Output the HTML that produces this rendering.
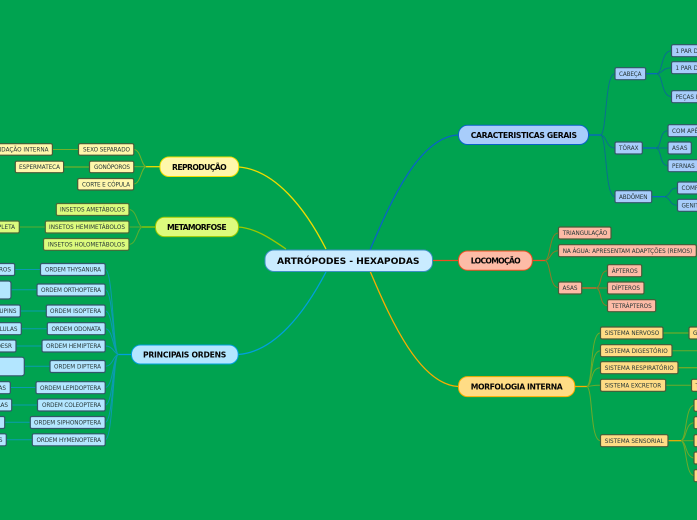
<!DOCTYPE html>
<html><head><meta charset="utf-8">
<style>
html,body{margin:0;padding:0;background:#00a350;overflow:hidden}
svg{display:block}
text{font-family:"DejaVu Sans","Liberation Sans",sans-serif}
.s text{font-size:5.7px;fill:#263636}
.m{font-size:7.7px;font-weight:bold;fill:#050505}
.b rect{fill:#a8cdfb;stroke:#34566a;stroke-width:1.2}
.r rect{fill:#fdbba6;stroke:#4a5a38;stroke-width:1.2}
.o rect{fill:#ffdc85;stroke:#4a5a38;stroke-width:1.2}
.y rect{fill:#fff7ab;stroke:#4a5a38;stroke-width:1.2}
.l rect{fill:#dcfb7d;stroke:#4a6a38;stroke-width:1.2}
.c rect{fill:#b3e6ff;stroke:#34566a;stroke-width:1.2}
path{fill:none}
</style></head><body>
<svg width="697" height="520" viewBox="0 0 697 520" xmlns="http://www.w3.org/2000/svg">
<rect width="697" height="520" fill="#00a350"/>

<!-- main links -->
<g stroke-width="1.3">
<path d="M370 250C392 198 420 137 458 135" stroke="#0a63c9"/>
<path d="M370 271C392 323 420 384 458 386.5" stroke="#f9ad00"/>
<path d="M432 260.5H458" stroke="#ef4e23"/>
<path d="M326 249C305 208 275 170 239 167" stroke="#f0dc00"/>
<path d="M286 249C270 238 255 228 238 227" stroke="#9cc800"/>
<path d="M326 272C305 312 275 352 238 354.5" stroke="#00a0de"/>
</g>

<!-- reprodução links -->
<path d="M146 166.7H160" stroke="#f0dc00" stroke-width="1.3"/>
<g stroke="#72b02a" stroke-width="1">
<path d="M146 166.7C141 165 141 150 134 149.5"/><path d="M146 166.7H134"/><path d="M146 166.7C141 168 141 183 134 184"/>
<path d="M78 149.5H52.6"/><path d="M89 167H63.7" stroke-width="1.2"/>
</g>
<!-- metamorfose links -->
<path d="M142 227H155.3" stroke="#9cc800" stroke-width="1.3"/>
<g stroke="#5cae30" stroke-width="1">
<path d="M142 227C137 225 137 210 129 209.5"/><path d="M142 227H129"/><path d="M142 227C137 229 137 244 129 244.5"/>
<path d="M45 227H19.3"/>
</g>
<!-- ordens links -->
<path d="M118 354.5H131.3" stroke="#00a0de" stroke-width="1.3"/>
<g stroke="#0a9cb0" stroke-width="1">
<path d="M118 354.5C113 350 113 270 105.3 269.5"/>
<path d="M118 354.5C113 350 113 290 105.3 289.7"/>
<path d="M118 354.5C113 350 113 311 105.3 311"/>
<path d="M118 354.5C113 350 113 329 105.3 328.7"/>
<path d="M118 354.5C113 352 113 346 105.3 346"/>
<path d="M118 354.5C113 356 113 366 105.3 366.3"/>
<path d="M118 354.5C113 358 113 387 105.3 387.5"/>
<path d="M118 354.5C113 358 113 405 105.3 405"/>
<path d="M118 354.5C113 358 113 422 105.3 422.3"/>
<path d="M118 354.5C113 358 113 439 105.3 439.7"/>
<path d="M40.3 269.5H14.7"/><path d="M36.7 289.7H11"/><path d="M46 311H20.3"/><path d="M47 328.7H21.3"/><path d="M41.7 346H16"/><path d="M49.7 366.3H24.3"/><path d="M35.7 387.5H10.3"/><path d="M37.3 405H11.7"/><path d="M30 422.3H4.7"/><path d="M32 439.7H6.3"/>
</g>
<!-- caracteristicas links -->
<path d="M589 135H601" stroke="#0a63c9" stroke-width="1.3"/>
<g stroke="#0a7090" stroke-width="1">
<path d="M601 135C607 130 605 74 614.7 73.7"/><path d="M601 135C607 136 606 148 614.7 148"/><path d="M601 135C607 140 605 196 614.7 196.7"/>
<path d="M657 73.7C663 72 661 51 671.3 50.7"/><path d="M657 73.7C663 73 662 68 671.3 67.7"/><path d="M657 73.7C663 75 661 96 671.3 96.7"/>
<path d="M656 148C662 147 659 131 667.7 130.7"/><path d="M656 148H667.7"/><path d="M656 148C662 149 659 165 667.7 165.7"/>
<path d="M665 196.7C671 195 669 188 677.3 188"/><path d="M665 196.7C671 198 669 205 677.3 205.3"/>
</g>
<g stroke="#0a63c9" stroke-width="1.2"><path d="M645.7 73.7H657"/><path d="M642.3 148H656"/><path d="M651.7 196.7H665"/></g>
<!-- locomoção links -->
<path d="M532.3 260.5H545" stroke="#ef4e23" stroke-width="1.3"/>
<g stroke="#8c7a2a" stroke-width="1">
<path d="M545 260.5C551 259 549 233 558.3 233"/><path d="M545 260.5C551 260 550 251 558.3 250.7"/><path d="M545 260.5C551 262 549 287 558.3 287.7"/>
<path d="M596 288C602 287 599 271 607.3 270.7"/><path d="M596 288H607.3"/><path d="M596 288C602 289 599 305 607.3 305.7"/>
</g>
<path d="M581.7 288H596" stroke="#c8682a" stroke-width="1.5"/>
<!-- morfologia links -->
<path d="M575 386.5H587" stroke="#f9ad00" stroke-width="1.3"/>
<g stroke="#6eaa2a" stroke-width="1">
<path d="M587 386.5C593 383 590 333 600.3 333"/><path d="M587 386.5C593 383 590 351 600.3 350.7"/><path d="M587 386.5C593 384 590 368 600.3 367.7"/><path d="M587 386.5C593 386 593 385 600.3 385.3"/><path d="M587 386.5C593 390 590 440 600.3 440.7"/>
<path d="M663 333H689" stroke-width="1.3"/><path d="M672 350.7H697"/><path d="M678 367.7H697" stroke-width="1.3"/><path d="M665.7 385.3H691"/>
<path d="M681 440.7C687 438 685 406 694 405.3"/><path d="M681 440.7C687 439 685 423 694 422.7"/><path d="M681 440.7H694"/><path d="M681 440.7C687 442 685 457 694 458"/><path d="M681 440.7C687 443 685 475 694 475.7"/>
</g>
<path d="M668 440.7H681" stroke="#f9ad00" stroke-width="1.2"/>

<!-- center -->
<rect x="265" y="250" width="167.5" height="21.5" rx="9" fill="#c9ebff" stroke="#3d8fc4" stroke-width="1"/>
<text x="277" y="264" class="m" style="font-size:9.2px" textLength="142.5">ARTRÓPODES - HEXAPODAS</text>

<!-- main nodes -->
<rect x="160" y="157" width="78.7" height="19.5" rx="9" fill="#fff7ab" stroke="#f0dc00"/>
<text x="172" y="170" class="m" textLength="54.7">REPRODUÇÃO</text>
<rect x="155.5" y="217.3" width="83" height="19.3" rx="9" fill="#dcfb7d" stroke="#9cc800"/>
<text x="167" y="230" class="m" textLength="59.7">METAMORFOSE</text>
<rect x="131.5" y="345" width="106.7" height="19" rx="9" fill="#b3e6ff" stroke="#00a0de"/>
<text x="143" y="357.5" class="m" textLength="83.3">PRINCIPAIS ORDENS</text>
<rect x="458.5" y="125.3" width="130" height="19.2" rx="9" fill="#a8cdfb" stroke="#0a63c9"/>
<text x="470.7" y="138" class="m" textLength="106.3">CARACTERISTICAS GERAIS</text>
<rect x="458.5" y="251" width="73.8" height="19.2" rx="9" fill="#fdbba6" stroke="#ef4e23"/>
<text x="470.7" y="263.5" class="m" textLength="50">LOCOMOÇÃO</text>
<rect x="458.5" y="376.6" width="116.3" height="20" rx="9" fill="#ffdc85" stroke="#f9ad00"/>
<text x="470.7" y="389.5" class="m" textLength="92">MORFOLOGIA INTERNA</text>

<!-- yellow sub nodes -->
<g class="y s">
<rect x="-30" y="143.7" width="82.4" height="11.5" rx="1.5"/><text x="48.5" y="151.5" text-anchor="end">FECUNDAÇÃO INTERNA</text>
<rect x="78.5" y="143.7" width="55.3" height="11.5" rx="1.5"/><text x="83" y="151.5" textLength="47">SEXO SEPARADO</text>
<rect x="15.3" y="161.2" width="48.3" height="11.5" rx="1.5"/><text x="19" y="169" textLength="41">ESPERMATECA</text>
<rect x="89.5" y="161.2" width="44.3" height="11.5" rx="1.5"/><text x="94" y="169" textLength="36">GONÓPOROS</text>
<rect x="77.7" y="178.5" width="56" height="11.5" rx="1.5"/><text x="82" y="186.7" textLength="48">CORTE E CÓPULA</text>
</g>
<!-- lime sub nodes -->
<g class="l s">
<rect x="56.3" y="203.5" width="72.7" height="12" rx="1.5"/><text x="60" y="211.7" textLength="65">INSETOS AMETÁBOLOS</text>
<rect x="-30" y="221" width="49.3" height="12" rx="1.5"/><text x="15" y="229.2" text-anchor="end">METAMORFOSE COMPLETA</text>
<rect x="45.3" y="221" width="83.7" height="12" rx="1.5"/><text x="49" y="229.2" textLength="76">INSETOS HEMIMETÁBOLOS</text>
<rect x="43.5" y="238.5" width="85.5" height="11.8" rx="1.5"/><text x="48" y="246.7" textLength="77">INSETOS HOLOMETÁBOLOS</text>
</g>
<!-- cyan sub nodes -->
<g class="c s">
<rect x="40.5" y="263.5" width="64.7" height="12" rx="1.5"/><text x="45" y="271.7" textLength="56">ORDEM THYSANURA</text>
<rect x="37" y="284" width="68.2" height="12" rx="1.5"/><text x="41" y="292" textLength="60">ORDEM ORTHOPTERA</text>
<rect x="46.3" y="305" width="58.9" height="12" rx="1.5"/><text x="50" y="313.2" textLength="51">ORDEM ISOPTERA</text>
<rect x="47.3" y="322.7" width="57.9" height="12" rx="1.5"/><text x="51.5" y="331" textLength="49.5">ORDEM ODONATA</text>
<rect x="42" y="340" width="63.2" height="12" rx="1.5"/><text x="46" y="348.2" textLength="55">ORDEM HEMIPTERA</text>
<rect x="50" y="360.5" width="55.2" height="12" rx="1.5"/><text x="54" y="368.7" textLength="47">ORDEM DIPTERA</text>
<rect x="36" y="381.7" width="69.2" height="12" rx="1.5"/><text x="40" y="389.8" textLength="61">ORDEM LEPIDOPTERA</text>
<rect x="37.5" y="399" width="67.7" height="12" rx="1.5"/><text x="42" y="407.2" textLength="59">ORDEM COLEOPTERA</text>
<rect x="30.3" y="416.5" width="74.9" height="12" rx="1.5"/><text x="34" y="424.7" textLength="67">ORDEM SIPHONOPTERA</text>
<rect x="32.3" y="433.8" width="72.9" height="12" rx="1.5"/><text x="36.5" y="442" textLength="64.5">ORDEM HYMENOPTERA</text>
<rect x="-30" y="263.5" width="44.7" height="12" rx="1.5"/><text x="11" y="271.7" text-anchor="end">ÁPTEROS</text>
<rect x="-30" y="281" width="41" height="18" rx="2.5"/>
<rect x="-30" y="305" width="50.3" height="12" rx="1.5"/><text x="16.5" y="313.2" text-anchor="end">CUPINS</text>
<rect x="-30" y="322.7" width="51.3" height="12" rx="1.5"/><text x="17.5" y="331" text-anchor="end">LIBÉLULAS</text>
<rect x="-30" y="340" width="46" height="12" rx="1.5"/><text x="12" y="348.2" text-anchor="end">DESR</text>
<rect x="-30" y="357.2" width="54.3" height="18.6" rx="2.5"/>
<rect x="-30" y="381.7" width="40.3" height="12" rx="1.5"/><text x="6" y="389.8" text-anchor="end">BORBOLETAS</text>
<rect x="-30" y="399" width="41.7" height="12" rx="1.5"/><text x="8" y="407.2" text-anchor="end">BESOURAS</text>
<rect x="-30" y="416.5" width="34.7" height="12" rx="1.5"/>
<rect x="-30" y="433.8" width="36.3" height="12" rx="1.5"/><text x="2.5" y="442" text-anchor="end">ABELHAS</text>
</g>
<!-- blue sub nodes -->
<g class="b s">
<rect x="615" y="67.7" width="30.7" height="12" rx="1.5"/><text x="619" y="75.9" textLength="22.5">CABEÇA</text>
<rect x="671.5" y="44.7" width="40" height="12" rx="1.5"/><text x="675.5" y="52.9">1 PAR DE ANTENAS</text>
<rect x="671.5" y="61.7" width="40" height="12" rx="1.5"/><text x="675.5" y="69.9">1 PAR DE OLHOS</text>
<rect x="671.5" y="90.7" width="40" height="12" rx="1.5"/><text x="675.5" y="98.9">PEÇAS BUCAIS</text>
<rect x="615" y="142" width="27.3" height="12" rx="1.5"/><text x="619" y="150.2" textLength="19.5">TÓRAX</text>
<rect x="668" y="124.7" width="40" height="12" rx="1.5"/><text x="672" y="132.9">COM APÊNDICES</text>
<rect x="668" y="142" width="23.3" height="12" rx="1.5"/><text x="672" y="150.2" textLength="15.5">ASAS</text>
<rect x="668" y="159.7" width="40" height="12" rx="1.5"/><text x="672" y="167.9">PERNAS</text>
<rect x="615" y="190.7" width="36.7" height="12" rx="1.5"/><text x="619" y="198.9" textLength="28.5">ABDÔMEN</text>
<rect x="677.5" y="182" width="40" height="12" rx="1.5"/><text x="681.5" y="190.2">COMPRIDO</text>
<rect x="677.5" y="199.3" width="40" height="12" rx="1.5"/><text x="681.5" y="207.5">GENITÁLIA</text>
</g>
<!-- red sub nodes -->
<g class="r s">
<rect x="558.5" y="227" width="52.5" height="12" rx="1.5"/><text x="562.7" y="235.2" textLength="44.5">TRIANGULAÇÃO</text>
<rect x="558.5" y="244.7" width="137.8" height="12" rx="1.5"/><text x="562.7" y="252.9" textLength="129.5">NA ÁGUA: APRESENTAM ADAPTÇÕES (REMOS)</text>
<rect x="558.5" y="282" width="23.2" height="12" rx="1.5"/><text x="562.5" y="290.2" textLength="15">ASAS</text>
<rect x="607.5" y="264.7" width="34.2" height="12" rx="1.5"/><text x="611.7" y="272.9" textLength="26">ÁPTEROS</text>
<rect x="607.5" y="282" width="36.5" height="12" rx="1.5"/><text x="611.7" y="290.2" textLength="28.3">DÍPTEROS</text>
<rect x="607.5" y="299.7" width="48.2" height="12" rx="1.5"/><text x="611.7" y="307.9" textLength="40">TETRÁPTEROS</text>
</g>
<!-- orange sub nodes -->
<g class="o s">
<rect x="600.5" y="327" width="62.5" height="12" rx="1.5"/><text x="604.7" y="335.2" textLength="54.5">SISTEMA NERVOSO</text>
<rect x="600.5" y="344.7" width="71.5" height="12" rx="1.5"/><text x="604.7" y="352.9" textLength="63">SISTEMA DIGESTÓRIO</text>
<rect x="600.5" y="361.7" width="77.5" height="12" rx="1.5"/><text x="604.7" y="369.9" textLength="69">SISTEMA RESPIRATÓRIO</text>
<rect x="600.5" y="379.3" width="65.2" height="12" rx="1.5"/><text x="604.7" y="387.5" textLength="56.5">SISTEMA EXCRETOR</text>
<rect x="600.5" y="434.7" width="67.5" height="12" rx="1.5"/><text x="604.7" y="442.9" textLength="59">SISTEMA SENSORIAL</text>
<rect x="689" y="327" width="30" height="12" rx="1.5"/><text x="693" y="335.2">GÂNGLIOS</text>
<rect x="691.5" y="379.3" width="30" height="12" rx="1.5"/><text x="695.5" y="387.5">TUBOS</text>
<rect x="694" y="399.3" width="30" height="12" rx="1.5"/>
<rect x="694" y="416.7" width="30" height="12" rx="1.5"/>
<rect x="694" y="434.7" width="30" height="12" rx="1.5"/>
<rect x="694" y="452" width="30" height="12" rx="1.5"/>
<rect x="694" y="469.7" width="30" height="12" rx="1.5"/>
</g>
</svg>
</body></html>
